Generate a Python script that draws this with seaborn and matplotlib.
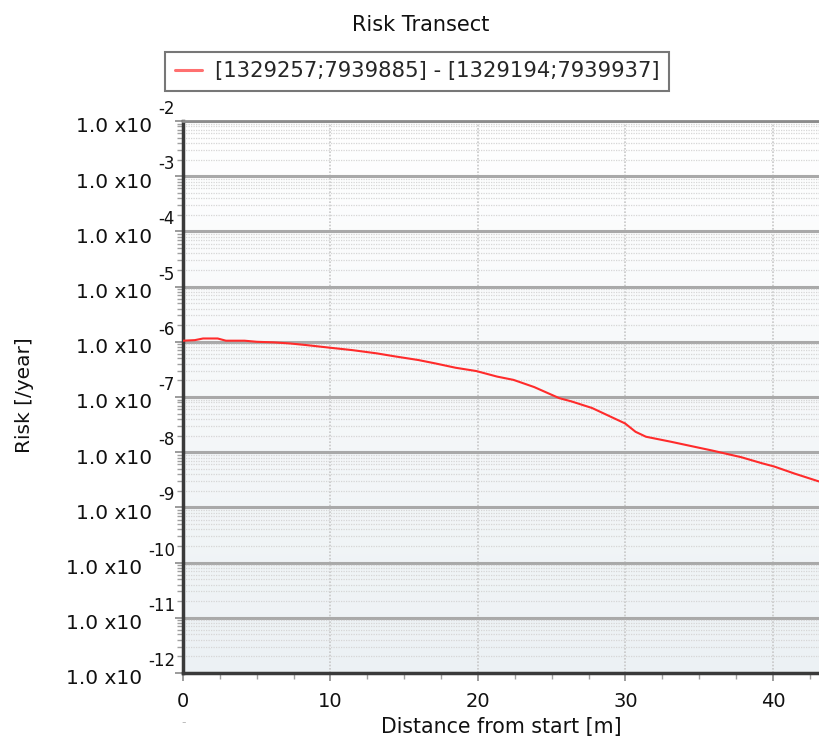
import numpy as np
import pandas as pd
import matplotlib
matplotlib.use('Agg')
import matplotlib.pyplot as plt
import seaborn as sns
from matplotlib.ticker import FixedLocator, MultipleLocator, LogLocator, NullFormatter

# ─────────────────────────────────────────────
# veri
# ─────────────────────────────────────────────
distance = [0.0, 0.8, 1.36, 2.35, 2.91, 4.17, 5.01, 6.14, 7.25, 8.38, 10.06,
            11.46, 13.15, 14.27, 15.95, 17.08, 18.48, 19.89, 21.29, 22.41,
            23.81, 25.5, 26.34, 27.74, 28.86, 29.98, 30.68, 31.39, 33.07,
            34.47, 35.88, 37.84, 39.25, 40.09, 41.49, 43.12]
log_risk = [-5.98, -5.97, -5.94, -5.94, -5.98, -5.98, -6.00, -6.01, -6.03,
            -6.06, -6.11, -6.15, -6.21, -6.26, -6.33, -6.39, -6.47, -6.53,
            -6.63, -6.69, -6.82, -7.02, -7.08, -7.20, -7.34, -7.48, -7.63,
            -7.72, -7.81, -7.89, -7.97, -8.09, -8.20, -8.26, -8.39, -8.53]
risk = [10.0 ** v for v in log_risk]

series_name = '[1329257;7939885] - [1329194;7939937]'
x_ticks = [0, 10, 20, 30, 40]
exponents = list(range(-12, -1))

df = pd.DataFrame({'Distance': distance, 'Risk': risk, 'Series': series_name})

# ─────────────────────────────────────────────
# grafik
# ─────────────────────────────────────────────
sns.set_style('white')
plt.rcParams['font.family'] = ['DejaVu Sans']

fig = plt.figure(figsize=(8.19, 7.43), dpi=100)
ax = fig.add_axes([183 / 819, 1 - 673 / 743, 1 - 183 / 819, (673 - 121) / 743])

# arka plan degrade
grad = np.linspace(0, 1, 256).reshape(-1, 1)
cmap = matplotlib.colors.LinearSegmentedColormap.from_list('bg', ['#ecf1f4', '#ffffff'])
ax.imshow(grad, extent=[0, 1, 0, 1], transform=ax.transAxes, cmap=cmap,
          aspect='auto', origin='lower', zorder=0)

sns.lineplot(data=df, x='Distance', y='Risk', hue='Series', palette=['#ff2b2b'],
             linewidth=1.5, ax=ax, zorder=5)

ax.set_yscale('log')
ax.set_ylim(1e-12, 1e-2)
ax.set_xlim(0, 43.12)

ax.xaxis.set_major_locator(FixedLocator(x_ticks))
ax.xaxis.set_minor_locator(MultipleLocator(2.5))
ax.yaxis.set_major_locator(FixedLocator([10.0 ** e for e in exponents]))
ax.yaxis.set_minor_locator(LogLocator(base=10, subs=np.arange(2, 10), numticks=100))
ax.yaxis.set_major_formatter(NullFormatter())
ax.yaxis.set_minor_formatter(NullFormatter())

ax.grid(False)
ax.grid(True, which='major', axis='y', color='#a9a9a9', linewidth=2.2, linestyle='-', zorder=1)
ax.grid(True, which='minor', axis='y', color='#d6d6d6', linewidth=0.9, linestyle=(0, (1, 1)), zorder=1)
ax.grid(True, which='major', axis='x', color='#c8c8c8', linewidth=1.2, linestyle=(0, (1, 1)), zorder=1)
ax.set_axisbelow(True)

ax.tick_params(axis='both', which='major', direction='out', length=6, width=1.2,
               color='#8a8a8a', labelsize=14, labelcolor='#111111', left=True, bottom=True)
ax.tick_params(axis='both', which='minor', direction='out', length=4, width=1,
               color='#a0a0a0', left=True, bottom=True)
ax.tick_params(axis='x', pad=8)

for side in ['left', 'bottom']:
    ax.spines[side].set_color('#3a3a3a')
    ax.spines[side].set_linewidth(2.5)
ax.spines['top'].set_color('#8c8c8c')
ax.spines['top'].set_linewidth(2)
ax.spines['right'].set_visible(False)

# y etiketleri: "1.0 x10" + üs
for e in exponents:
    exp_txt = ax.annotate(str(e), xy=(0, 10.0 ** e), xycoords=ax.get_yaxis_transform(),
                          xytext=(-8, 12), textcoords='offset pixels', ha='right', va='center',
                          fontsize=12, color='#111111', annotation_clip=False)
    ax.annotate('1.0 x10', xy=(0, 0.5), xycoords=exp_txt, xytext=(-6, -18),
                textcoords='offset pixels', ha='right', va='center',
                fontsize=14.5, color='#111111', annotation_clip=False)

ax.set_xlabel('Distance from start [m]', fontsize=14.8, color='#111111', labelpad=4)
ax.set_ylabel('')
fig.text(25 / 819, 1 - 395 / 743, 'Risk [/year]', rotation=90, ha='center', va='center',
         fontsize=14.5, color='#111111')
fig.text(421 / 819, 1 - 25 / 743, 'Risk Transect', ha='center', va='center',
         fontsize=15, color='#111111')
fig.text(184 / 819, 1 - 723 / 743, '-', ha='center', va='center', fontsize=9, color='#bbbbbb')

leg = ax.legend(loc='center', bbox_to_anchor=(417 / 819, 1 - 71 / 743),
                bbox_transform=fig.transFigure, fontsize=15.2, frameon=True,
                fancybox=False, handlelength=1.3, handletextpad=0.6,
                borderpad=0.45, title=None)
leg.get_frame().set_edgecolor('#555555')
leg.get_frame().set_linewidth(1.5)
leg.get_frame().set_facecolor('white')
for h in leg.get_lines():
    h.set_color('#ff7070')
    h.set_linewidth(2.2)

fig.savefig('out.png', dpi=100)
